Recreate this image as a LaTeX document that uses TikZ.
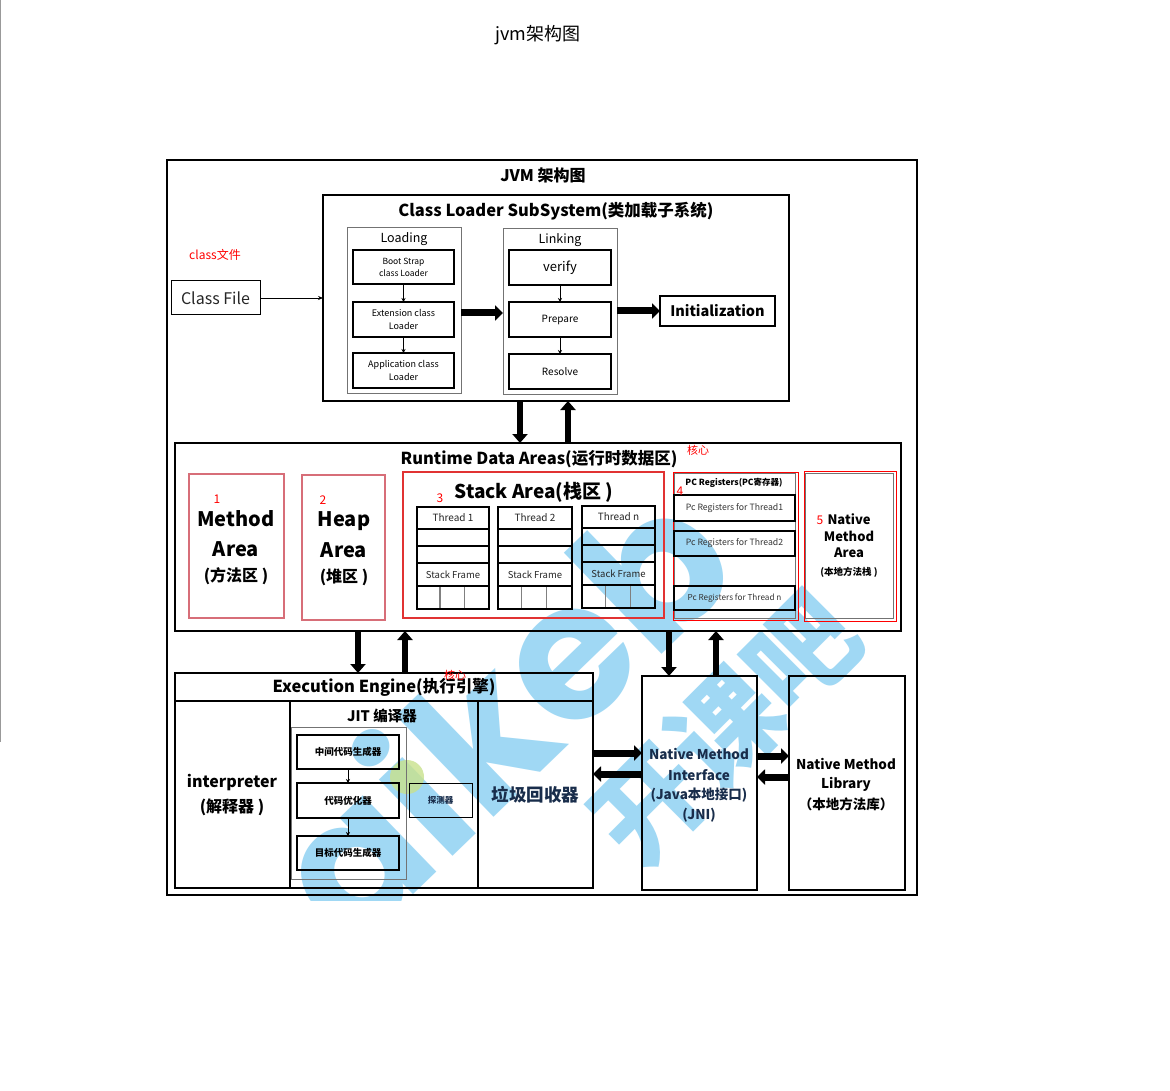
\documentclass[tikz,border=0pt]{standalone}
\usepackage{fontspec}
\setmainfont{Noto Sans CJK SC}
\newfontfamily\wmfont{Poppins}
\usetikzlibrary{arrows.meta,calc}
\newcommand\fs[2]{\fontsize{#1pt}{#2pt}\selectfont}
\newcommand\rb[7][]{%
  \pgfmathsetmacro\rbX{(#3+#5)/2}%
  \pgfmathsetmacro\rbY{(#4+#6)/2}%
  \pgfmathsetmacro\rbW{#5-#3}%
  \pgfmathsetmacro\rbH{#6-#4}%
  \node[#1, minimum width=\rbW pt, minimum height=\rbH pt] (#2) at (\rbX,\rbY) {#7};}
\definecolor{wmblue}{RGB}{120,200,240}
\definecolor{wmgreen}{RGB}{200,225,140}
\definecolor{softred}{RGB}{215,110,120}
\definecolor{strongred}{RGB}{225,50,50}
\definecolor{navy}{RGB}{25,45,75}
\tikzset{
  base/.style={inner sep=0pt, outer sep=0pt, align=center},
  box/.style={base, draw, line width=1.3pt},
  frame/.style={base, draw, line width=2pt},
  tbox/.style={base, draw, line width=1.8pt},
  graybox/.style={base, draw=black!55, line width=1pt},
  cellbox/.style={base, draw=black!50, line width=1.2pt},
  redsoft/.style={base, draw=softred, line width=1.2pt},
  redstrong/.style={base, draw=strongred, line width=2pt},
  redthin/.style={base, draw=red, line width=1pt},
  lbl/.style={inner sep=0pt, align=center},
  redlbl/.style={lbl, text=red, font=\fs{12}{14}},
  sarrow/.style={line width=0.8pt, -{Stealth[length=4pt,width=4pt]}},
  bigv/.style={line width=6pt, -{Triangle[length=9pt,width=15pt]}},
  bigh/.style={line width=7pt, -{Triangle[length=8pt,width=15pt]}},
  wm/.style={text=wmblue, opacity=0.7, inner sep=0pt},
}
\begin{document}
\begin{tikzpicture}[x=1pt,y=-1pt]
\useasboundingbox (0,0) rectangle (1170,1091);
\fill[white] (0,0) rectangle (1170,1091);
\draw[black!40, line width=1.3pt] (0.7,0) -- (0.7,742);

% watermark
\begin{scope}
\clip (167,160) rectangle (917,900);
\node[wm, font=\wmfont\bfseries\fontsize{190}{190}\selectfont, rotate=44, anchor=base west] (wm1) at (352,954) {aikeb};
\node[wm, font=\bfseries\fontsize{108}{108}\selectfont, rotate=45] (wm2) at (725,728) {开课吧};
\fill[wmgreen, opacity=0.8] (407,777) circle (17);
\end{scope}

\node[lbl, font=\fs{18}{20}] (title) at (538,35) {jvm架构图};

% outer
\rb[frame]{outer}{167}{160}{917}{895}{}
\node[lbl, font=\bfseries\fs{16}{18}] (jvmt) at (543,175) {JVM 架构图};

% class loader
\rb[frame]{cls}{323}{195}{789}{401}{}
\node[lbl, font=\bfseries\fs{16.5}{18}] (clst) at (556,211) {Class Loader SubSystem(类加载子系统)};
\rb[graybox]{loading}{347}{228}{461}{393}{}
\node[lbl, font=\fs{12.5}{14}] (loadt) at (404,239) {Loading};
\rb[box, font=\fs{8.5}{12}]{boot}{353}{250}{454}{284}{Boot Strap\\class Loader}
\rb[box, font=\fs{9}{13}]{ext}{353}{302}{454}{337}{Extension class\\Loader}
\rb[box, font=\fs{9}{13}]{app}{353}{353}{454}{388}{Application class\\Loader}
\draw[sarrow] (boot) -- (ext);
\draw[sarrow] (ext) -- (app);
\rb[graybox]{linking}{503}{229}{617}{394}{}
\node[lbl, font=\fs{12.5}{14}] (linkt) at (560,240) {Linking};
\rb[box, font=\fs{13}{14}]{verify}{509}{250}{611}{285}{verify}
\rb[box, font=\fs{10}{12}]{prepare}{509}{302}{611}{337}{Prepare}
\rb[box, font=\fs{10}{12}]{resolve}{509}{354}{611}{389}{Resolve}
\draw[sarrow] (verify) -- (prepare);
\draw[sarrow] (prepare) -- (resolve);
\draw[bigh] (loading.east |- 0,313) -- (linking.west |- 0,313);
\rb[box, font=\bfseries\fs{14.5}{16}]{init}{660}{296}{775}{326}{Initialization}
\draw[bigh] (linking.east |- init.west) -- (init.west);

\rb[box, line width=1pt, font=\fs{16}{18}, text=black!85]{cf}{171}{281}{260}{315}{Class File}
\node[redlbl] (cfl) at (215,255) {class文件};
\draw[line width=0.8pt, -{Stealth[length=5pt,width=4pt]}] (cf.east) -- (cls.west |- cf.east);

% runtime data areas
\rb[frame]{rda}{175}{443}{901}{631}{}
\node[lbl, font=\bfseries\fs{16.5}{18}] (rdat) at (539,459) {Runtime Data Areas(运行时数据区)};
\node[redlbl, font=\fs{11}{12}] (core1) at (698,450) {核心};

\coordinate (c1) at (520,0);
\coordinate (c2) at (568,0);
\draw[bigv] (c1 |- cls.south) -- (c1 |- rda.north);
\draw[bigv] (c2 |- rda.north) -- (c2 |- cls.south);

\rb[redsoft]{method}{189}{474}{284}{618}{}
\node[redlbl] (n1) at (217,499) {1};
\node[lbl, font=\bfseries\fs{20}{22}] (mt1) at (236,519) {Method};
\node[lbl, font=\bfseries\fs{20}{22}] (mt2) at (236,549) {Area};
\node[lbl, font=\bfseries\fs{16}{18}] (mt3) at (236,576) {(方法区 )};

\rb[redsoft]{heap}{302}{475}{385}{620}{}
\node[redlbl] (n2) at (323,500) {2};
\node[lbl, font=\bfseries\fs{20}{22}] (ht1) at (344,521) {Heap};
\node[lbl, font=\bfseries\fs{20}{22}] (ht2) at (344,550) {Area};
\node[lbl, font=\bfseries\fs{16}{18}] (ht3) at (344,577) {(堆区 )};

\rb[redstrong]{stack}{403}{472}{664}{618}{}
\node[lbl, font=\bfseries\fs{19}{21}] (stt) at (534,492) {Stack Area(栈区 )};
\node[redlbl] (n3) at (440,498) {3};

\foreach \i/\a/\b/\l/\o in {1/417/489/Thread 1/0, 2/498/572/Thread 2/0, 3/582/655/Thread n/-1}{
  \pgfmathsetmacro\ya{507+\o}\pgfmathsetmacro\yb{529+\o}
  \pgfmathsetmacro\yc{546+\o}\pgfmathsetmacro\yd{563+\o}
  \pgfmathsetmacro\ye{586+\o}\pgfmathsetmacro\yf{609+\o}
  \pgfmathsetmacro\xa{\a+0.32*(\b-\a)}\pgfmathsetmacro\xb{\a+0.66*(\b-\a)}
  \rb[tbox, font=\fs{10}{12}, text=black!85]{th\i}{\a}{\ya}{\b}{\yb}{\l}
  \rb[tbox]{ea\i}{\a}{\yb}{\b}{\yc}{}
  \rb[tbox]{eb\i}{\a}{\yc}{\b}{\yd}{}
  \rb[tbox, font=\fs{9.5}{12}, text=black!85]{sf\i}{\a}{\yd}{\b}{\ye}{Stack Frame}
  \rb[cellbox]{ca\i}{\a}{\ye}{\xa}{\yf}{}
  \rb[cellbox]{cb\i}{\xa}{\ye}{\xb}{\yf}{}
  \rb[cellbox]{cc\i}{\xb}{\ye}{\b}{\yf}{}
  \rb[tbox]{cr\i}{\a}{\ye}{\b}{\yf}{}
}

\rb[redthin]{pc}{673}{472}{798}{620}{}
\rb[graybox]{pcin}{674}{473}{795}{618}{}
\node[lbl, font=\bfseries\fs{8.5}{10}] (pct) at (734,483) {PC Registers(PC寄存器)};
\rb[tbox, font=\fs{8.7}{10}, text=black!80]{pc1}{674}{495}{795}{521}{Pc Registers for Thread1}
\rb[tbox, font=\fs{8.7}{10}, text=black!80]{pc2}{674}{531}{795}{556}{Pc Registers for Thread2}
\rb[tbox, font=\fs{8.2}{10}, text=black!80]{pcn}{674}{586}{795}{610}{Pc Registers for Thread n}
\node[redlbl] (n4) at (680,491) {4};

\rb[redthin]{nmar}{804}{471}{896}{621}{}
\rb[graybox]{nma}{805}{473}{893}{618}{}
\node[redlbl] (n5) at (820,520) {5};
\node[lbl, font=\bfseries\fs{13}{14}] (na1) at (849,519) {Native};
\node[lbl, font=\bfseries\fs{13}{14}] (na2) at (849,536) {Method};
\node[lbl, font=\bfseries\fs{13}{14}] (na3) at (849,553) {Area};
\node[lbl, font=\bfseries\fs{9.5}{11}] (na4) at (849,572) {(本地方法栈 )};

% execution engine
\rb[frame, line width=2.2pt]{ee}{175}{673}{593}{888}{}
\rb[frame, line width=2.2pt, font=\bfseries\fs{16.5}{18}]{eeh}{175}{673}{593}{701}{Execution Engine(执行引擎)}
\node[redlbl, font=\fs{11}{12}] (core2) at (455,675) {核心};
\coordinate (e1) at (358,0);
\coordinate (e2) at (405,0);
\draw[bigv] (e1 |- rda.south) -- (e1 |- ee.north);
\draw[bigv] (e2 |- ee.north) -- (e2 |- rda.south);

\rb[frame, line width=2.2pt]{interp}{175}{701}{290}{888}{}
\node[lbl, font=\bfseries\fs{16}{18}] (it1) at (232,783) {interpreter};
\node[lbl, font=\bfseries\fs{16}{18}] (it2) at (232,807) {(解释器 )};
\rb[frame, line width=2.2pt]{jit}{290}{701}{478}{888}{}
\node[lbl, font=\bfseries\fs{14.5}{16}] (jitt) at (382,716) {JIT 编译器};
\rb[graybox]{jitin}{291}{727}{406}{879}{}
\rb[box, font=\bfseries\fs{9.5}{11}]{ir}{297}{735}{399}{769}{中间代码生成器}
\rb[box, font=\bfseries\fs{9.5}{11}]{opt}{297}{783}{399}{818}{代码优化器}
\rb[box, font=\bfseries\fs{9.5}{11}]{tgt}{297}{836}{399}{870}{目标代码生成器}
\draw[sarrow] (ir) -- (opt);
\draw[sarrow] (opt) -- (tgt);
\rb[box, line width=1pt, font=\bfseries\fs{8.5}{10}, text=navy]{probe}{409}{783}{472}{817}{探测器}
\rb[frame, line width=2.2pt, font=\bfseries\fs{17.5}{19}, text=navy]{gc}{478}{701}{593}{888}{垃圾回收器}

% JNI and library
\rb[frame, line width=2.2pt]{jni}{642}{676}{757}{890}{}
\node[lbl, font=\bfseries\fs{13.5}{15}, text=navy] (jn1) at (699,754) {Native Method};
\node[lbl, font=\bfseries\fs{13.5}{15}, text=navy] (jn2) at (699,775) {Interface};
\node[lbl, font=\bfseries\fs{13.5}{15}, text=navy] (jn3) at (699,795) {(Java本地接口)};
\node[lbl, font=\bfseries\fs{13.5}{15}, text=navy] (jn4) at (699,815) {(JNI)};
\rb[frame, line width=2.2pt]{nml}{789}{676}{905}{890}{}
\node[lbl, font=\bfseries\fs{13.5}{15}] (nl1) at (846,764) {Native Method};
\node[lbl, font=\bfseries\fs{13.5}{15}] (nl2) at (846,784) {Library};
\node[lbl, font=\bfseries\fs{13.5}{15}] (nl3) at (846,804) {（本地方法库）};

\coordinate (j1) at (669,0);
\coordinate (j2) at (716,0);
\draw[bigv] (j1 |- rda.south) -- (j1 |- jni.north);
\draw[bigv] (j2 |- jni.north) -- (j2 |- rda.south);
\coordinate (h1) at (0,753);
\coordinate (h2) at (0,774);
\coordinate (h3) at (0,756);
\coordinate (h4) at (0,777);
\draw[bigh] (h1 -| ee.east) -- (h1 -| jni.west);
\draw[bigh] (h2 -| jni.west) -- (h2 -| ee.east);
\draw[bigh] (h3 -| jni.east) -- (h3 -| nml.west);
\draw[bigh] (h4 -| nml.west) -- (h4 -| jni.east);
\end{tikzpicture}
\end{document}
